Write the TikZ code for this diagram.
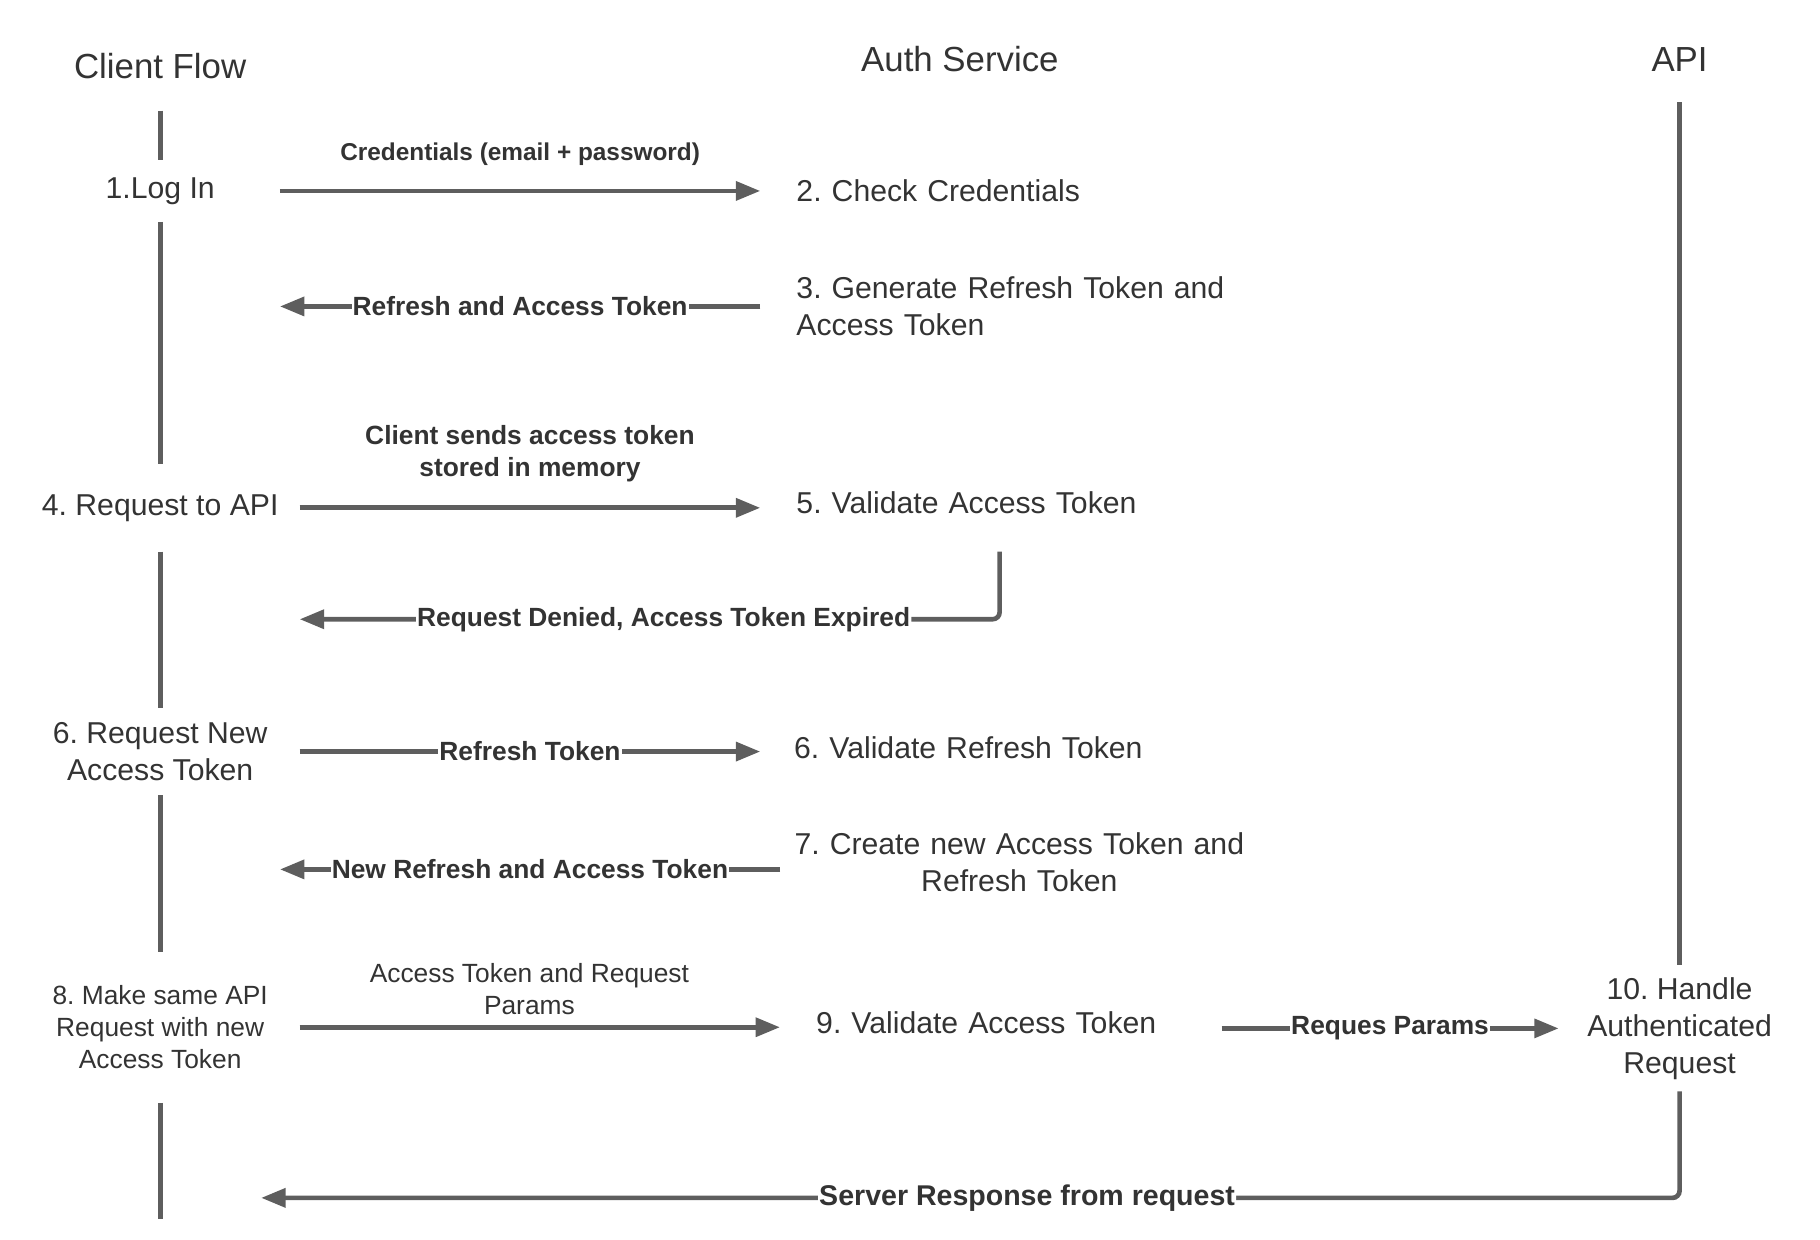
\documentclass[tikz,border=0pt]{standalone}
\usepackage{fontspec}
\setmainfont{Liberation Sans}
\usetikzlibrary{arrows.meta}
\definecolor{linegray}{HTML}{5E5E5E}
\definecolor{textgray}{HTML}{333333}
\frenchspacing

\begin{document}
\begin{tikzpicture}[x=1pt,y=-1pt,
		every node/.style={text=textgray,inner sep=0pt},
		lane/.style={font=\fontsize{30}{36}\selectfont},
		stepbox/.style={font=\fontsize{26}{32}\selectfont,align=center},
		authbox/.style={font=\fontsize{26}{32}\selectfont,anchor=west,inner xsep=31pt,text width=350pt,align=left},
		life/.style={draw=linegray,line width=4pt},
		msg/.style={draw=linegray,line width=4pt,-{Triangle[length=21pt,width=16pt]}},
		lbl/.style={font=\bfseries\fontsize{22.7}{28}\selectfont,fill=white,inner xsep=1pt,align=center},
		note/.style={font=\fontsize{22.7}{27.5}\selectfont,align=center}]
		\useasboundingbox (0,0) rectangle (1568,1068);
		\node[lane,minimum height=76pt] (client) at (138,57) {Client Flow};
		\node[lane] (auth) at (827,51) {Auth Service};
		\node[lane,minimum height=74pt] (api) at (1447,51) {API};

		\node[stepbox,minimum width=206pt,minimum height=53pt] (login) at (138,164.5) {1.Log In};
		\node[stepbox,minimum width=240pt,minimum height=75pt] (req) at (138,437.5) {4. Request to API};
		\node[stepbox,minimum width=240pt,minimum height=75pt] (reqnew) at (138,647.5) {6. Request New\\Access Token};
		\node[note,minimum width=240pt,minimum height=130pt] (make) at (138,885) {8. Make same API\\Request with new\\Access Token};
		\coordinate (cend) at (138,1050);

		\node[authbox] (check) at (655,164.5) {2. Check Credentials};
		\node[authbox,text width=420pt] (gen) at (655,264) {3. Generate Refresh Token and\\Access Token};
		\node[authbox,minimum height=84pt] (val) at (655,433) {5. Validate Access Token};
		\node[authbox,inner xsep=29pt,text width=354pt] (valref) at (655,644) {6. Validate Refresh Token};
		\node[authbox,inner xsep=6pt,text width=400pt,align=center] (create) at (672,743) {7. Create new Access Token and\\Refresh Token};
		\node[authbox,text width=318pt] (val2) at (672,881) {9. Validate Access Token};

		\node[stepbox,minimum width=208pt,minimum height=108pt] (handle) at (1447,886) {10. Handle\\Authenticated\\Request};
		\coordinate (rend) at (225,1032);

		\foreach \a/\b in {client/login,login/req,req/reqnew,reqnew/make}
			\draw[life] (\a.south) -- (\b.north);
		\draw[life] (make.south) -- (cend);
		\draw[life] (api.south) -- (handle.north);

		\draw[msg] (login.east) -- (login.east -| check.west) node[midway,above=20pt,lbl,font=\bfseries\fontsize{21}{26}\selectfont] {Credentials (email + password)};
		\draw[msg] (gen.west) -- (gen.west -| login.east) node[midway,lbl] {Refresh and Access Token};
		\draw[msg] (req.east) -- (req.east -| val.west) node[midway,above=20pt,lbl] {Client sends access token\\stored in memory};
		\draw[msg,rounded corners=6pt] (val.south) |- ([yshift=-96pt]req.east) node[pos=0.74,lbl] {Request Denied, Access Token Expired};
		\draw[msg] (reqnew.east) -- (reqnew.east -| valref.west) node[midway,lbl] {Refresh Token};
		\draw[msg] ([yshift=-6pt]create.west) -- ([yshift=-6pt]create.west -| login.east) node[midway,lbl] {New Refresh and Access Token};
		\draw[msg] (make.east) -- (make.east -| val2.west) node[midway,above=9pt,xshift=-9pt,note] {Access Token and Request\\Params};
		\draw[msg] (handle.west -| val2.east) -- (handle.west) node[midway,lbl] {Reques Params};
		\draw[msg,rounded corners=6pt] (handle.south) |- (rend) node[pos=0.73,lbl,font=\bfseries\fontsize{24.6}{30}\selectfont] {Server Response from request};
	\end{tikzpicture}
\end{document}
